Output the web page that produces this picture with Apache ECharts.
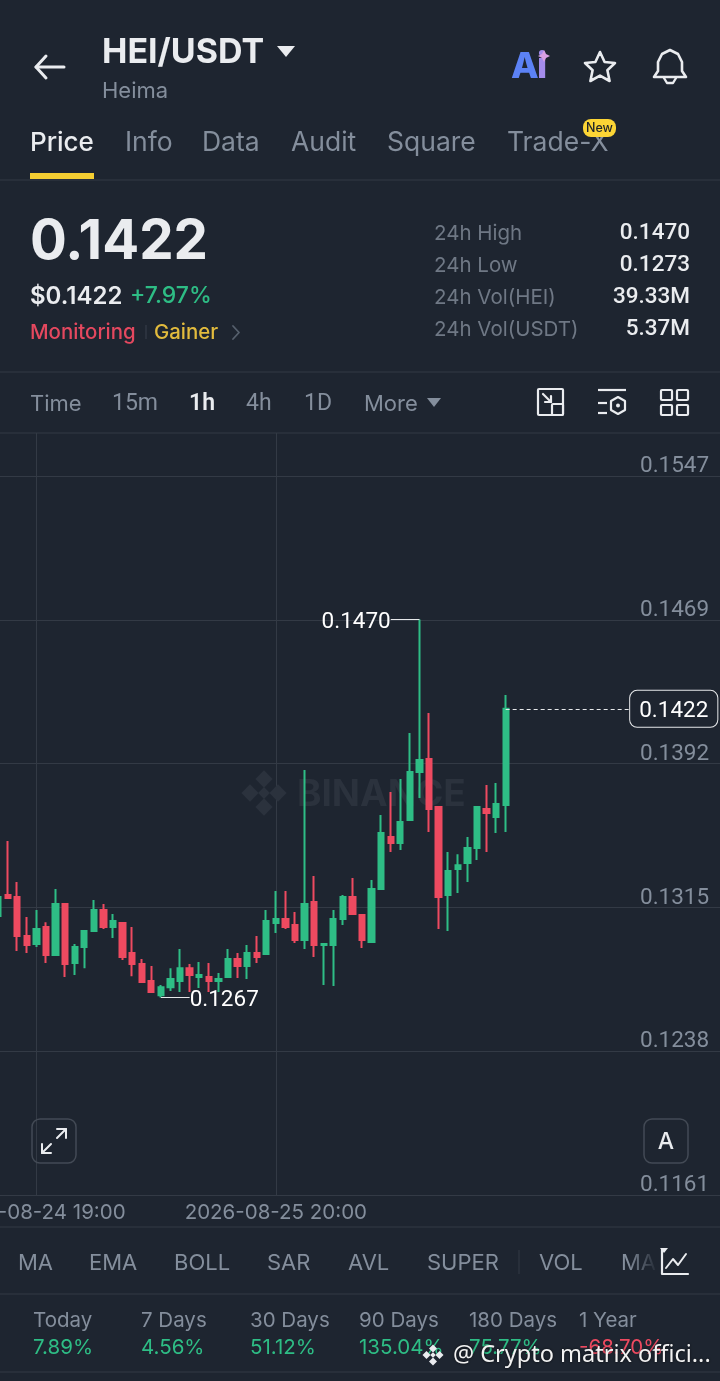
<!DOCTYPE html>
<html><head><meta charset="utf-8">
<style>html,body{margin:0;padding:0;background:#1e2530}#c{width:720px;height:1381px}</style>
<script src="https://cdn.jsdelivr.net/npm/echarts@6/dist/echarts.min.js"></script>
</head><body><div id="c"></div>
<script>
const times = ["2026-08-24 15:00","2026-08-24 16:00","2026-08-24 17:00","2026-08-24 18:00","2026-08-24 19:00","2026-08-24 20:00","2026-08-24 21:00","2026-08-24 22:00","2026-08-24 23:00","2026-08-25 00:00","2026-08-25 01:00","2026-08-25 02:00","2026-08-25 03:00","2026-08-25 04:00","2026-08-25 05:00","2026-08-25 06:00","2026-08-25 07:00","2026-08-25 08:00","2026-08-25 09:00","2026-08-25 10:00","2026-08-25 11:00","2026-08-25 12:00","2026-08-25 13:00","2026-08-25 14:00","2026-08-25 15:00","2026-08-25 16:00","2026-08-25 17:00","2026-08-25 18:00","2026-08-25 19:00","2026-08-25 20:00","2026-08-25 21:00","2026-08-25 22:00","2026-08-25 23:00","2026-08-26 00:00","2026-08-26 01:00","2026-08-26 02:00","2026-08-26 03:00","2026-08-26 04:00","2026-08-26 05:00","2026-08-26 06:00","2026-08-26 07:00","2026-08-26 08:00","2026-08-26 09:00","2026-08-26 10:00","2026-08-26 11:00","2026-08-26 12:00","2026-08-26 13:00","2026-08-26 14:00","2026-08-26 15:00","2026-08-26 16:00","2026-08-26 17:00","2026-08-26 18:00","2026-08-26 19:00","2026-08-26 20:00"];
const opens  = [.13108,.13220,.13210,.13000,.12957,.13049,.12898,.13172,.12855,.12941,.13027,.13140,.13049,.13070,.12909,.12850,.12759,.12683,.12726,.12759,.12828,.12780,.12780,.12759,.12780,.12877,.12839,.12909,.12904,.13070,.13092,.13059,.12979,.13183,.12952,.12952,.13092,.13210,.13113,.12968,.13253,.13532,.13500,.13623,.13881,.13951,.13693,.13220,.13360,.13392,.13473,.13682,.13639,.13704];
const closes = [.13210,.13204,.13000,.12952,.13038,.12898,.13172,.12850,.12941,.13027,.13140,.13049,.13081,.12888,.12850,.12753,.12700,.12726,.12769,.12828,.12791,.12791,.12759,.12769,.12877,.12839,.12909,.12888,.13081,.13092,.13049,.12979,.13172,.12952,.12957,.13092,.13210,.13118,.12979,.13253,.13553,.13500,.13612,.13881,.13945,.13682,.13210,.13349,.13381,.13473,.13693,.13661,.13709,.14220];
const lows   = [.13108,.13199,.12920,.12909,.12941,.12855,.12898,.12780,.12791,.12828,.13022,.13038,.12990,.12871,.12785,.12748,.12694,.12670,.12705,.12700,.12700,.12721,.12700,.12700,.12780,.12775,.12769,.12855,.12904,.13016,.13038,.12963,.12931,.12888,.12737,.12732,.13059,.13118,.12936,.12968,.13253,.13451,.13462,.13623,.13741,.13559,.13038,.13027,.13231,.13290,.13408,.13451,.13553,.13559];
const highs  = [.13242,.13510,.13290,.13102,.13140,.13075,.13253,.13172,.12957,.13027,.13194,.13172,.13118,.13070,.13049,.12877,.12839,.12737,.12828,.12931,.12850,.12861,.12855,.12802,.12931,.12909,.12952,.13000,.13140,.13242,.13242,.13129,.13892,.13322,.12963,.13140,.13220,.13312,.13118,.13301,.13650,.13773,.13843,.14090,.14700,.14198,.13698,.13451,.13440,.13532,.13698,.13811,.13822,.14294];
const yTickValues = [.1161,.12382,.13154,.13926,.14698,.1547];
const yTickLabels = ["0.1161","0.1238","0.1315","0.1392","0.1469","0.1547"];
const xTickIndexes = [4,29];
const blankSlots = 22;
const lastPrice = .1422, peak = {i:44,v:.1470,to:41,label:"0.1470"}, trough = {i:17,v:.1267,to:20,label:"0.1267"}, priceLineEnd = 66;
const statsLeft = [["24h High","0.1470"],["24h Low","0.1273"],["24h Vol(HEI)","39.33M"],["24h Vol(USDT)","5.37M"]];
const tabs = [["Price",30],["Info",125],["Data",202],["Audit",291],["Square",387],["Trade-X",507]];
const intervals = [["Time",30],["15m",112],["1h",189],["4h",246],["1D",304],["More",364]];
const indicators = [["MA",18],["EMA",89],["BOLL",174],["SAR",267],["AVL",348],["SUPER",427],["VOL",539],["MA",621]];
const returnsTbl = [["Today","7.89%",33],["7 Days","4.56%",141],["30 Days","51.12%",250],["90 Days","135.04%",359],["180 Days","75.77%",469],["1 Year","-68.70%",579]];

const BG="#1e2530", GREEN="#2ebd85", RED="#ee4a60", GREY="#848e9c", WHITE="#eaecef", LINE="#333a45", FONT="Inter", NUM="Roboto";
const els=[];
function T(text,x,y,size,fill,o){els.push({type:'text',silent:true,z:(o&&o.z)||5,style:Object.assign({text,x,y:y+1.5,fill,fontSize:size,fontFamily:(o&&o.f)||FONT,fontWeight:(o&&o.w)||400,align:(o&&o.a)||'left',verticalAlign:'middle'},o&&o.s||{})});}
function L(x1,y1,x2,y2,c,w,z){els.push({type:'line',silent:true,z:z||1,shape:{x1,y1,x2,y2},style:{stroke:c||LINE,lineWidth:w||1}});}
function P(pts,c,w,smooth){els.push({type:'polyline',silent:true,z:5,shape:{points:pts,smooth:smooth||0},style:{stroke:c,lineWidth:w||2,fill:null,lineJoin:'round',lineCap:'round'}});}
function F(pts,c,z,stroke){els.push({type:'polygon',silent:true,z:z||5,shape:{points:pts},style:stroke?{fill:null,stroke:c,lineWidth:stroke,lineJoin:'round'}:{fill:c}});}
function R(x,y,w,h,r,stroke,fill,lw,z){els.push({type:'rect',silent:true,z:z||5,shape:{x,y,width:w,height:h,r},style:{stroke:stroke||null,fill:fill||null,lineWidth:lw||2}});}
function diamond(cx,cy,r,c,z){F([[cx,cy-r],[cx+r,cy],[cx,cy+r],[cx-r,cy]],c,z);}
function logo(cx,cy,s,c,z){diamond(cx,cy-s,s*.62,c,z);diamond(cx,cy+s,s*.62,c,z);diamond(cx-s,cy,s*.62,c,z);diamond(cx+s,cy,s*.62,c,z);diamond(cx,cy,s*.42,c,z);}

[180,372,433,1227,1294,1372].forEach(y=>L(0,y,720,y,LINE,1));
// header
P([[36,67],[64,67]],WHITE,3);P([[46,56],[36,67],[46,78]],WHITE,3);
T("HEI/USDT",102,51,34,WHITE,{w:700});
F([[277,46],[295,46],[286,57]],WHITE);
T("Heima",102,90,22,GREY);
T("A",511,66,36,"#5c82f5",{w:800});
T("i",537,66,36,"#a48ceb",{w:800});
F([[544,50],[546,54],[550,56],[546,58],[544,62],[542,58],[538,56],[542,54]],"#d9a0e4",6);
F([[600,52],[604.6,62],[615,63],[607.4,70.3],[609.6,81],[600,75.6],[590.4,81],[592.6,70.3],[585,63],[595.4,62]],WHITE,5,2.6);
P([[654,77],[658,71],[658,62],[662,54],[670,50],[678,54],[682,62],[682,71],[686,77],[654,77]],WHITE,2.6);
P([[664,78],[667,83],[673,83],[676,78]],WHITE,2.4);
tabs.forEach(([t,x],i)=>T(t,x,142,i?26.5:26,i?GREY:WHITE,{w:i?400:500}));
R(30,173,64,6,0,null,"#f5ce32");
R(583,119,33,18,8,null,"#fcd535",1,6);
T("New",599.5,127,12.5,"#1e2329",{a:'center',w:500,z:7});
// price block
T("0.1422",30,241,54.7,WHITE,{w:700});
T("$0.1422",30,295,24,WHITE,{w:600});
T("+7.97%",130,295,23,GREEN,{w:500});
T("Monitoring",30,331,20.4,"#e5485f",{w:500});
L(146,325,146,339,"#39404c",1,5);
T("Gainer",154,331,20.4,"#e2bb3d",{w:500});
P([[233,326],[239,332.5],[233,339]],"#56606d",1.8);
statsLeft.forEach(([a,b],i)=>{const y=232+i*32;T(a,434,y,20.5,"#6f7885");T(b,690,y,22.5,WHITE,{a:'right',w:500,f:NUM});});
// interval bar
intervals.forEach(([t,x],i)=>{const dig=/\d/.test(t);T(t,x,403,dig?23:22,t==="1h"?WHITE:GREY,{w:t==="1h"?600:400,f:dig?NUM:FONT});});
F([[427,398],[441,398],[434,407]],GREY);
R(538,389,25,26,1,WHITE,null,2.2);
R(552,404,11,11,1,WHITE,BG,2.2);
P([[543,394],[551,402]],WHITE,2.2);P([[545,402],[551,402],[551,396]],WHITE,2.2);
L(598,390,626,390,WHITE,2.2,5);L(598,403,607,403,WHITE,2.2,5);L(598,413,607,413,WHITE,2.2,5);
F([[618,397],[625,401],[625,410],[618,414],[611,410],[611,401]],WHITE,5,2.2);
els.push({type:'circle',silent:true,z:5,shape:{cx:618,cy:405.5,r:2},style:{fill:WHITE}});
[[661,390],[677,390],[661,405],[677,405]].forEach(p=>R(p[0],p[1],11,10,1,WHITE,null,2.2));
// watermark
logo(264,793,14,"#2b323d",1);
T("BINANCE",297,793,37,"#2b323d",{w:700,z:1});
// chart buttons
R(32,1119,44,44,8,"#434a55",null,1.5,6);
P([[42,1153],[51,1144]],WHITE,2);P([[57,1138],[66,1129]],WHITE,2);P([[57,1129],[66,1129],[66,1138]],WHITE,2);P([[42,1144],[42,1153],[51,1153]],WHITE,2);
R(644,1119,44,44,8,"#434a55",null,1.5,6);
T("A",666,1141,23,WHITE,{a:'center',w:500,z:7});
// indicators
indicators.forEach(([t,x])=>T(t,x,1262,22,GREY));
els.push({type:'rect',silent:true,z:6,shape:{x:628,y:1250,width:30,height:26},style:{fill:new echarts.graphic.LinearGradient(0,0,1,0,[{offset:0,color:"rgba(30,37,48,0)"},{offset:1,color:BG}])}});
L(519,1250,519,1274,"#333a45",1,5);
P([[662,1249],[662,1274],[688,1274]],WHITE,2.2);
P([[666,1268],[673,1259],[678,1265],[686,1254]],WHITE,2);
F([[660,1248],[668,1248],[664,1253]],WHITE,6);
// returns
returnsTbl.forEach(([a,b,x])=>{T(a,x,1319,20.5,GREY);T(b,x,1346,20.5,b[0]==="-"?RED:GREEN);});
// screenshot overlay
logo(433,1355,6.5,WHITE,20);
T("@ Crypto matrix offici...",453,1354,23.5,"#f2f2f2",{z:20,s:{fontFamily:"Noto Sans",textShadowColor:"rgba(0,0,0,.7)",textShadowBlur:3}});

const candles = times.map((_,i)=>[opens[i],closes[i],lows[i],highs[i]]);
const cats = times.concat(Array(blankSlots).fill(""));
const bw = 9.577;
const pickX = (idx)=>xTickIndexes.indexOf(idx)>=0;
const chart = echarts.init(document.getElementById('c'),null,{renderer:'canvas'});
const leader={color:"#e6e8ea",width:1,type:'solid'};
const markText={show:true,position:'end',distance:0,rich:{a:{color:"#fff",fontSize:22.5,fontFamily:NUM,padding:[5,0,0,0]}}};
chart.setOption({
  backgroundColor:BG, animation:false,
  grid:{left:-6.7,top:433,width:bw*cats.length,height:762,containLabel:false,outerBoundsMode:'none'},
  xAxis:{type:'category',data:cats,boundaryGap:true,
    axisLine:{show:false},axisTick:{show:false,alignWithLabel:true,interval:pickX},
    splitLine:{show:true,alignWithLabel:true,interval:pickX,lineStyle:{color:LINE,width:1}},
    axisLabel:{interval:pickX,color:GREY,fontSize:20.5,fontFamily:FONT,margin:7,hideOverlap:false}},
  yAxis:{type:'value',position:'right',scale:true,min:.1161,max:.15701,
    axisLine:{show:false},
    axisTick:{show:false,customValues:yTickValues},
    splitLine:{show:true,lineStyle:{color:LINE,width:1}},
    axisLabel:{customValues:yTickValues,inside:true,margin:12,color:GREY,fontSize:22.5,lineHeight:19,fontFamily:NUM,verticalAlign:'bottom',padding:0,
      formatter:v=>yTickLabels[yTickValues.findIndex(t=>Math.abs(t-v)<1e-6)]}},
  series:[{type:'candlestick',data:candles,barWidth:5.8,silent:true,
    itemStyle:{color:GREEN,color0:RED,borderColor:GREEN,borderColor0:RED,borderWidth:2},
    markLine:{silent:true,symbol:'none',animation:false,precision:4,
      data:[
        [{coord:[peak.i,peak.v],lineStyle:leader,label:Object.assign({},markText,{formatter:"{a|"+peak.label+"}"})},{coord:[peak.to,peak.v]}],
        [{coord:[trough.i,trough.v],lineStyle:leader,label:Object.assign({},markText,{formatter:"{a|"+trough.label+"}"})},{coord:[trough.to,trough.v]}],
        [{coord:[53,lastPrice],lineStyle:{color:"#e6e8ea",width:1,type:[4,3]},label:Object.assign({},markText,{formatter:"{a|"+lastPrice.toFixed(4)+"}",backgroundColor:BG,borderColor:"#e6e8ea",borderWidth:1,borderRadius:7,padding:[4,9,4,9]})},{coord:[priceLineEnd,lastPrice]}]
      ]}
  }],
  graphic:{elements:els}
});
</script></body></html>
